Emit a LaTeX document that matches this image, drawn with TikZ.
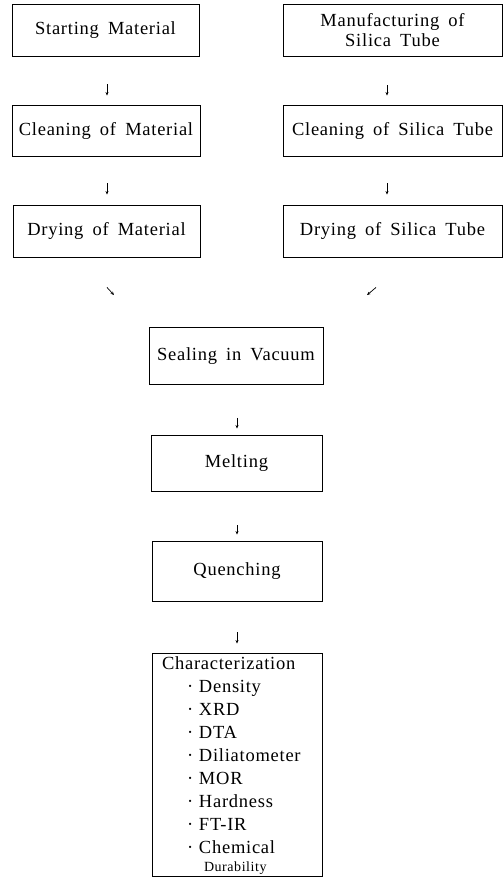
\documentclass[tikz,border=0pt]{standalone}
\usepackage{fontspec}
\setmainfont{Liberation Serif}[LetterSpace=4, WordSpace=1.7]
\usetikzlibrary{arrows.meta,calc}
\begin{document}
\begin{tikzpicture}[x=1pt,y=-1pt,
  box/.style={draw, line width=0.9pt, inner sep=0pt, align=center, font=\fontsize{18.5}{20.5}\selectfont},
  arr/.style={line width=0.7pt, -{Stealth[length=3.5pt,width=3pt]}}]
\useasboundingbox (0,0) rectangle (503,878);
% left column
\node[box, minimum width=187pt, minimum height=52pt] (sm) at (105.5,30) {Starting Material};
\node[box, minimum width=188pt, minimum height=51pt] (cm) at (106,130.5) {Cleaning of Material};
\node[box, minimum width=187pt, minimum height=52pt] (dm) at (106.5,231) {Drying of Material};
% right column
\node[box, minimum width=219pt, minimum height=52pt] (mst) at (392.5,30) {Manufacturing of\\Silica Tube};
\node[box, minimum width=219pt, minimum height=51pt] (cst) at (392.5,130.5) {Cleaning of Silica Tube};
\node[box, minimum width=219pt, minimum height=52pt] (dst) at (392.5,231) {Drying of Silica Tube};
% centre column
\node[box, minimum width=174pt, minimum height=57pt] (sv) at (236,356) {Sealing in Vacuum};
\node[box, minimum width=171pt, minimum height=56pt] (mel) at (236.5,463) {Melting};
\node[box, minimum width=170pt, minimum height=60pt] (q) at (237,571) {Quenching};
\node[box, minimum width=170pt, minimum height=223pt, align=left] (ch) at (237,764.5) {%
\parbox[c][221pt][t]{150pt}{\fontsize{18.5}{23}\selectfont\vspace*{3pt}%
Characterization\\
\hspace*{25pt}\makebox[12pt][l]{·}Density\\
\hspace*{25pt}\makebox[12pt][l]{·}XRD\\
\hspace*{25pt}\makebox[12pt][l]{·}DTA\\
\hspace*{25pt}\makebox[12pt][l]{·}Diliatometer\\
\hspace*{25pt}\makebox[12pt][l]{·}MOR\\
\hspace*{25pt}\makebox[12pt][l]{·}Hardness\\
\hspace*{25pt}\makebox[12pt][l]{·}FT-IR\\
\hspace*{25pt}\makebox[12pt][l]{·}Chemical\\[-5pt]
\hspace*{42pt}{\fontsize{14}{16}\selectfont Durability}}};
% connectors
\draw[arr] ($(sm.south)+(1.5,28)$) -- ($(cm.north)+(1,-9)$);
\draw[arr] ($(cm.south)+(1,27)$) -- ($(dm.north)+(0.5,-10)$);
\draw[arr] ($(mst.south)+(-5.5,29)$) -- ($(cst.north)+(-5.5,-9)$);
\draw[arr] ($(cst.south)+(-5.5,27)$) -- ($(dst.north)+(-5.5,-10)$);
\draw[arr] ($(dm.south)+(0.5,30)$) -- ($(sv.north)+(-122,-32)$);
\draw[arr] ($(dst.south)+(-16.5,30)$) -- ($(sv.north)+(131,-32)$);
\draw[arr] ($(sv.south)+(1,33)$) -- ($(mel.north)+(0.5,-6)$);
\draw[arr] ($(mel.south)+(0.5,34)$) -- ($(q.north)+(0,-6)$);
\draw[arr] ($(q.south)+(0,31)$) -- ($(ch.north)+(0,-9)$);
\end{tikzpicture}
\end{document}
